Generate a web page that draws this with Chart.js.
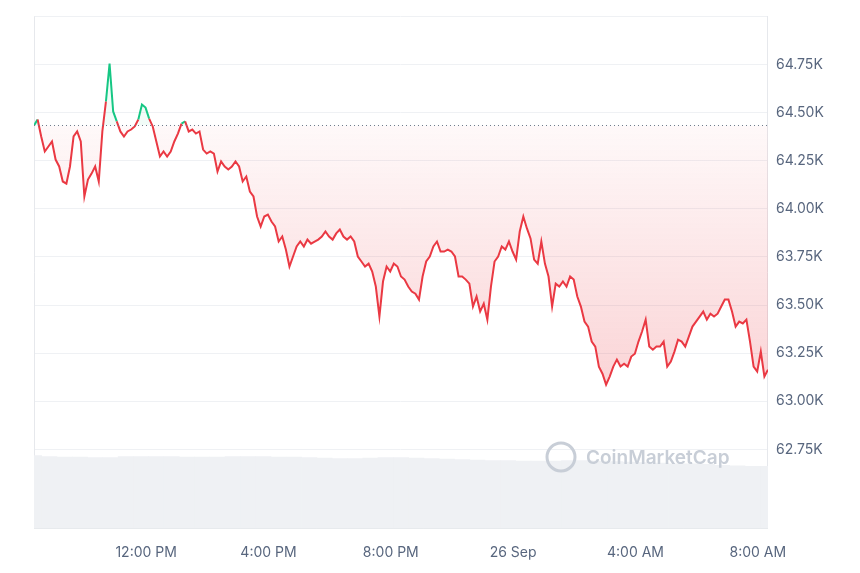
<!DOCTYPE html>
<html lang="en">
<head>
<meta charset="UTF-8">
<title>BTC 24h</title>
<style>
  body { margin: 0; background: #fff; }
  #wrap { width: 860px; height: 573px; }
</style>
<script src="https://cdn.jsdelivr.net/npm/chart.js"></script>
</head>
<body>
<div id="wrap"><canvas id="grafico"></canvas></div>
<script>
// prices in thousands USD, sampled evenly over 24h starting 8:20 AM Sep 25
const prices = [64.433,64.464,64.376,64.298,64.324,64.350,64.256,64.220,64.142,64.131,64.220,64.376,64.402,64.350,64.064,64.152,64.183,64.220,64.142,64.402,64.558,64.755,64.506,64.454,64.402,64.376,64.402,64.412,64.428,64.464,64.542,64.526,64.469,64.428,64.350,64.272,64.298,64.272,64.298,64.350,64.391,64.443,64.454,64.402,64.412,64.391,64.402,64.308,64.287,64.298,64.287,64.194,64.246,64.220,64.204,64.220,64.246,64.220,64.142,64.168,64.090,64.064,63.960,63.908,63.960,63.970,63.934,63.908,63.830,63.856,63.788,63.700,63.752,63.804,63.830,63.804,63.840,63.819,63.830,63.840,63.856,63.882,63.856,63.840,63.872,63.892,63.856,63.840,63.856,63.830,63.752,63.726,63.700,63.715,63.674,63.596,63.440,63.622,63.700,63.674,63.715,63.700,63.648,63.632,63.596,63.570,63.559,63.528,63.648,63.726,63.752,63.804,63.830,63.778,63.778,63.788,63.778,63.752,63.648,63.648,63.632,63.611,63.492,63.544,63.466,63.507,63.424,63.596,63.726,63.752,63.804,63.788,63.830,63.778,63.736,63.882,63.960,63.898,63.846,63.736,63.715,63.830,63.715,63.648,63.492,63.611,63.596,63.622,63.596,63.648,63.632,63.544,63.492,63.414,63.388,63.310,63.284,63.180,63.143,63.086,63.128,63.180,63.216,63.180,63.195,63.180,63.232,63.247,63.310,63.362,63.424,63.284,63.268,63.284,63.284,63.310,63.180,63.206,63.258,63.320,63.310,63.284,63.336,63.388,63.414,63.440,63.466,63.424,63.455,63.440,63.455,63.492,63.528,63.528,63.466,63.388,63.414,63.404,63.424,63.310,63.180,63.154,63.258,63.128,63.164];
// volume per 30 min (relative units)
const volumes = [14.2,14.0,13.9,13.9,13.8,13.8,14.0,14.0,14.0,14.0,13.9,13.9,13.9,14.0,14.0,14.0,13.9,13.9,13.8,13.7,13.6,13.6,13.7,13.8,13.8,13.7,13.6,13.5,13.4,13.3,13.2,13.2,13.1,13.1,13.1,13.2,13.2,13.1,13.0,12.9,12.8,12.7,12.6,12.6,12.5,12.3,12.2,12.1,12.1];
const tickMinutes = [220, 460, 700, 940, 1180, 1420];
const tickLabels = ['12:00 PM', '4:00 PM', '8:00 PM', '26 Sep', '4:00 AM', '8:00 AM'];
const yTicks = [62.75, 63.0, 63.25, 63.5, 63.75, 64.0, 64.25, 64.5, 64.75, 65.0];
const baseline = 64.433;

const step = 1440 / (prices.length - 1);
const pricePts = prices.map((p, i) => ({ x: i * step, y: p }));
const volPts = volumes.map((v, i) => ({ x: i * 30, y: v }));

const red = '#ea3943', green = '#16c784';

const extras = {
  id: 'extras',
  beforeDatasetsDraw(chart) {
    const { ctx, chartArea: a } = chart;
    ctx.save();
    ctx.strokeStyle = '#e6e8ec';
    ctx.lineWidth = 1;
    ctx.beginPath();
    ctx.moveTo(a.left + 0.5, a.top); ctx.lineTo(a.left + 0.5, a.bottom);
    ctx.stroke();
    ctx.restore();
  },
  afterDatasetsDraw(chart) {
    const { ctx, chartArea: a, scales } = chart;
    const y = scales.y.getPixelForValue(baseline);
    ctx.save();
    ctx.strokeStyle = '#707a8a';
    ctx.lineWidth = 1;
    ctx.setLineDash([1, 3]);
    ctx.beginPath(); ctx.moveTo(a.left, y); ctx.lineTo(a.right, y); ctx.stroke();
    // watermark
    ctx.setLineDash([]);
    ctx.fillStyle = '#c8ced7';
    ctx.strokeStyle = '#c8ced7';
    ctx.lineWidth = 3;
    ctx.beginPath(); ctx.arc(561, 457, 14, 0, Math.PI * 2); ctx.stroke();
    ctx.font = '600 19px Inter, "Noto Sans", sans-serif';
    ctx.textBaseline = 'middle';
    ctx.fillText('CoinMarketCap', 586, 458);
    ctx.restore();
  }
};

new Chart(document.getElementById('grafico'), {
  data: {
    datasets: [{
      type: 'line',
      data: pricePts,
      yAxisID: 'y',
      borderWidth: 2,
      pointRadius: 0,
      tension: 0,
      borderColor: red,
      segment: {
        borderColor: c => (c.p0.parsed.y >= baseline && c.p1.parsed.y >= baseline) ? green : red
      },
      fill: {
        value: baseline,
        above: 'rgba(22,199,132,0.06)',
        below: c => {
          const { ctx, chartArea } = c.chart;
          if (!chartArea) return 'rgba(234,57,67,0.1)';
          const top = c.chart.scales.y.getPixelForValue(baseline);
          const g = ctx.createLinearGradient(0, top, 0, c.chart.scales.y.getPixelForValue(63.05));
          g.addColorStop(0, 'rgba(234,57,67,0.03)');
          g.addColorStop(1, 'rgba(234,57,67,0.22)');
          return g;
        }
      },
      order: 1
    }, {
      type: 'bar',
      data: volPts,
      yAxisID: 'yv',
      backgroundColor: '#eff1f4',
      barPercentage: 1,
      categoryPercentage: 1,
      order: 2
    }]
  },
  options: {
    responsive: true,
    maintainAspectRatio: false,
    animation: false,
    layout: { padding: { left: 34, top: 12, right: 28, bottom: 4 } },
    plugins: { legend: { display: false }, tooltip: { enabled: false } },
    scales: {
      x: {
        type: 'linear', min: 0, max: 1440, offset: false,
        afterBuildTicks: s => { s.ticks = tickMinutes.map(v => ({ value: v })); },
        ticks: {
          callback: (v) => tickLabels[tickMinutes.indexOf(v)],
          color: '#58667e', font: { family: 'Inter', size: 14 }, padding: 8, maxRotation: 0
        },
        grid: { display: false },
        border: { color: '#e6e8ec' }
      },
      y: {
        position: 'right', min: 62.34, max: 65.0,
        afterBuildTicks: s => { s.ticks = yTicks.map(v => ({ value: v })); },
        ticks: {
          callback: v => v >= 65 ? '' : v.toFixed(2) + 'K',
          color: '#58667e', font: { family: 'Inter', size: 14 }, padding: 8
        },
        grid: { color: '#eff1f4', drawTicks: false },
        border: { color: '#e6e8ec' }
      },
      yv: { display: false, min: 0, max: 100 }
    }
  },
  plugins: [extras]
});
</script>
</body>
</html>
